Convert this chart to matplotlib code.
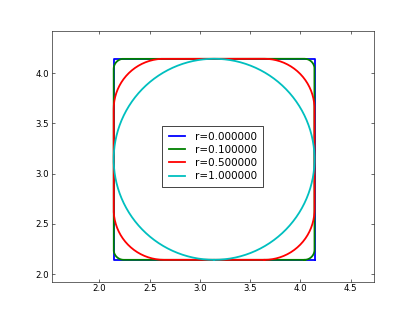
import numpy as np
import matplotlib
matplotlib.use('Agg')
import matplotlib.pyplot as plt

# corner radii of the rounded squares, and the square itself
radii = [0.0, 0.1, 0.5, 1.0]
labels = ['r=%f' % r for r in radii]
colors = ['b', 'g', 'r', 'c']
cx, cy = np.pi, np.pi
half = 1.0

plt.rcParams['font.size'] = 12
plt.rcParams['xtick.direction'] = 'in'
plt.rcParams['ytick.direction'] = 'in'
plt.rcParams['xtick.top'] = True
plt.rcParams['ytick.right'] = True
plt.rcParams['xtick.major.size'] = 4
plt.rcParams['ytick.major.size'] = 4


def rounded_square(r, n=60):
    # corner centres, going counter-clockwise starting bottom right
    d = half - r
    corners = [(d, -d, -np.pi/2), (d, d, 0.0), (-d, d, np.pi/2), (-d, -d, np.pi)]
    xs, ys = [], []
    for (px, py, a0) in corners:
        t = np.linspace(a0, a0 + np.pi/2, n)
        xs.extend(cx + px + r*np.cos(t))
        ys.extend(cy + py + r*np.sin(t))
    xs.append(xs[0])
    ys.append(ys[0])
    return np.array(xs), np.array(ys)


fig = plt.figure(figsize=(415/52.0, 313/52.0), dpi=52)
ax = fig.add_subplot(111)
fig.subplots_adjust(left=0.125, right=0.9, bottom=0.1, top=0.9)

for r, lab, c in zip(radii, labels, colors):
    x, y = rounded_square(r)
    ax.plot(x, y, color=c, lw=2.5, label=lab)

ax.set_xlim(1.526, 4.729)
ax.set_ylim(1.924, 4.415)
ax.set_xticks([2.0, 2.5, 3.0, 3.5, 4.0, 4.5])
ax.set_yticks([2.0, 2.5, 3.0, 3.5, 4.0])
ax.xaxis.set_major_formatter(matplotlib.ticker.FormatStrFormatter('%.1f'))
ax.yaxis.set_major_formatter(matplotlib.ticker.FormatStrFormatter('%.1f'))

leg = ax.legend(loc='center', fontsize=14.4, handlelength=1.6, handletextpad=0.9,
                fancybox=False, framealpha=1.0, edgecolor='black',
                borderpad=0.6, labelspacing=0.3)
leg.get_frame().set_linewidth(1.0)

fig.savefig('out.png', dpi=52)
